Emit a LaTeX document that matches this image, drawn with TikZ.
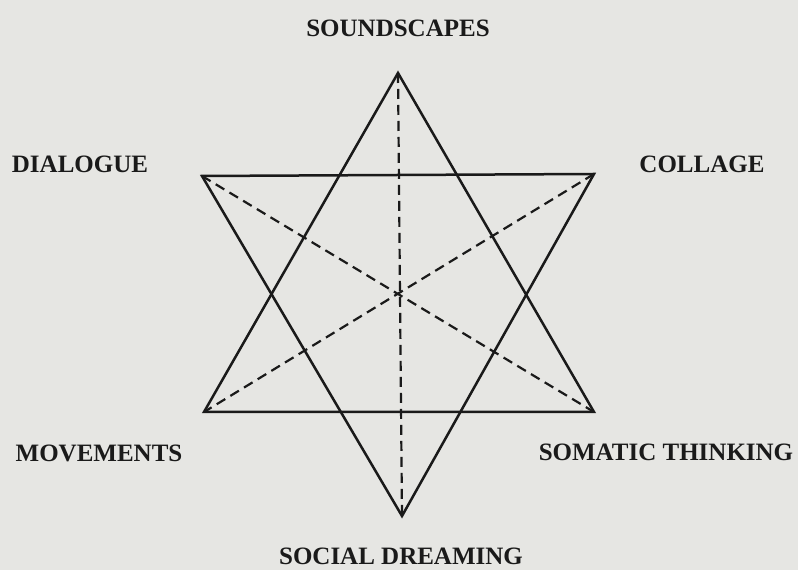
\documentclass[tikz,border=0pt]{standalone}
\usepackage{fontspec}
\setmainfont{Liberation Serif}
\definecolor{papier}{HTML}{E6E6E3}
\definecolor{tinta}{HTML}{1A1A1A}

\begin{document}
\begin{tikzpicture}[x=1pt,y=1pt,font=\fontsize{25}{27}\selectfont\bfseries,
  lab/.style={anchor=base,inner sep=0pt,text=tinta},
  crta/.style={draw=tinta,line width=2.5pt,line join=miter},
  isprek/.style={draw=tinta,line width=2.2pt,dash pattern=on 10pt off 6pt}]
\fill[papier] (0,0) rectangle (798,570);
\useasboundingbox (0,0) rectangle (798,570);
% vrhovi zvijezde
\coordinate (T) at (398,497);\coordinate (B) at (402,54);
\coordinate (UL) at (202,394);\coordinate (UR) at (594,396);
\coordinate (LL) at (204,158);\coordinate (LR) at (594,158);
\draw[crta] (T)--(LL)--(LR)--cycle;
\draw[crta] (UL)--(UR)--(B)--cycle;
\foreach \a/\b in {T/B,UL/LR,UR/LL}{\draw[isprek] (\a)--(\b);}
% natpisi
\node[lab] (snd) at (398,533) {SOUNDSCAPES};
\node[lab] (dia) at (80,397) {DIALOGUE};
\node[lab] (col) at (702,397) {COLLAGE};
\node[lab] (mov) at (99,108) {MOVEMENTS};
\node[lab] (som) at (666,109) {SOMATIC THINKING};
\node[lab] (soc) at (401,5) {SOCIAL DREAMING};
\end{tikzpicture}
\end{document}
